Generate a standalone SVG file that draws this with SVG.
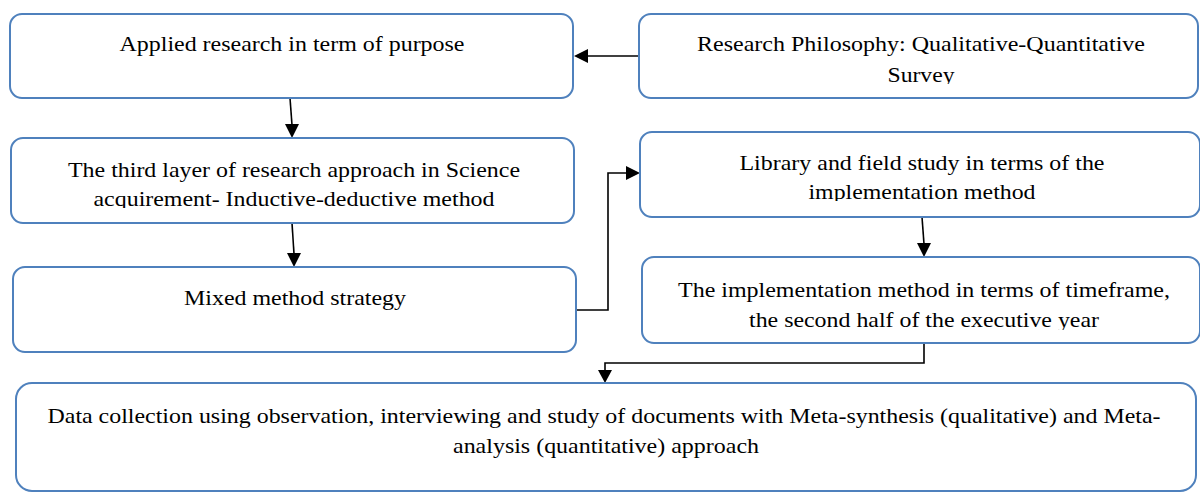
<svg xmlns="http://www.w3.org/2000/svg" width="1200" height="494" viewBox="0 0 1200 494">
<style>
.box{fill:#fff;stroke:#4f81bd;stroke-width:2}
text{font-size:22px;fill:#000;text-anchor:middle}
.c{fill:none;stroke:#000;stroke-width:1.6}
.ah{fill:#000;stroke:none}
</style>
<defs>
<clipPath id="cp1"><rect x="600" y="0" width="600" height="84"/></clipPath>
<clipPath id="cp2"><rect x="0" y="120" width="600" height="88"/></clipPath>
<clipPath id="cp3"><rect x="600" y="120" width="600" height="81"/></clipPath>
<clipPath id="cp4"><rect x="600" y="250" width="600" height="80"/></clipPath>
</defs>
<rect width="1200" height="494" fill="#fff"/>
<g id="connectors">
<line class="c" x1="638" y1="56" x2="586" y2="56"/>
<polygon class="ah" points="574,56 588,49 588,63"/>
<line class="c" x1="290" y1="98" x2="292" y2="125"/>
<polygon class="ah" points="292,138 285,124 299,124"/>
<line class="c" x1="292" y1="223" x2="294" y2="254"/>
<polygon class="ah" points="294,267 287,253 301,253"/>
<polyline class="c" points="576,310 608,310 608,173 627,173"/>
<polygon class="ah" points="640,173 626,166 626,180"/>
<line class="c" x1="922" y1="217" x2="924" y2="244"/>
<polygon class="ah" points="924,257 917,243 931,243"/>
<polyline class="c" points="924,343 924,363 605,363 605,371"/>
<polygon class="ah" points="605,383 598,370 612,370"/>
</g>
<g font-family="Liberation Serif, Times New Roman, serif">
<g id="n1">
<rect class="box" x="10" y="14" width="563" height="84" rx="12"/>
<text x="292" y="51" textLength="345" lengthAdjust="spacingAndGlyphs">Applied research in term of purpose</text>
</g>
<g id="n2">
<rect class="box" x="639" y="14" width="559" height="84" rx="12"/>
<g clip-path="url(#cp1)">
<text x="921" y="51" textLength="448" lengthAdjust="spacingAndGlyphs">Research Philosophy: Qualitative-Quantitative</text>
<text x="921" y="82" textLength="67" lengthAdjust="spacingAndGlyphs">Survey</text>
</g>
</g>
<g id="n3">
<rect class="box" x="11" y="138" width="563" height="85" rx="12"/>
<g clip-path="url(#cp2)">
<text x="294" y="177" textLength="452" lengthAdjust="spacingAndGlyphs">The third layer of research approach in Science</text>
<text x="294" y="206" textLength="401" lengthAdjust="spacingAndGlyphs">acquirement- Inductive-deductive method</text>
</g>
</g>
<g id="n4">
<rect class="box" x="640" y="132" width="560" height="85" rx="12"/>
<g clip-path="url(#cp3)">
<text x="922" y="170" textLength="365" lengthAdjust="spacingAndGlyphs">Library and field study in terms of the</text>
<text x="922" y="199" textLength="227" lengthAdjust="spacingAndGlyphs">implementation method</text>
</g>
</g>
<g id="n5">
<rect class="box" x="13" y="267" width="563" height="85" rx="12"/>
<text x="295" y="305" textLength="222" lengthAdjust="spacingAndGlyphs">Mixed method strategy</text>
</g>
<g id="n6">
<rect class="box" x="642" y="257" width="558" height="86" rx="12"/>
<g clip-path="url(#cp4)">
<text x="924" y="297" textLength="492" lengthAdjust="spacingAndGlyphs">The implementation method in terms of timeframe,</text>
<text x="924" y="327" textLength="350" lengthAdjust="spacingAndGlyphs">the second half of the executive year</text>
</g>
</g>
<g id="n7">
<rect class="box" x="16" y="383" width="1180" height="108" rx="16"/>
<text x="604" y="423" textLength="1113" lengthAdjust="spacingAndGlyphs">Data collection using observation, interviewing and study of documents with Meta-synthesis (qualitative) and Meta-</text>
<text x="606" y="453" textLength="306" lengthAdjust="spacingAndGlyphs">analysis (quantitative) approach</text>
</g>
</g>
</svg>
